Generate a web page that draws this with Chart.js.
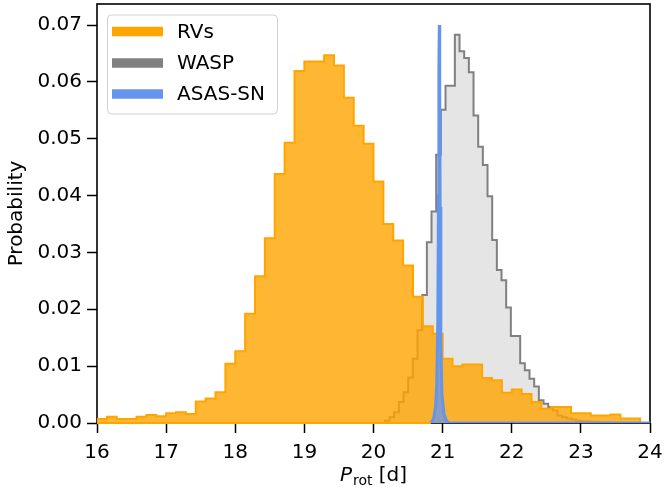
<!DOCTYPE html>
<html>
<head>
<meta charset="utf-8">
<script src="https://cdn.jsdelivr.net/npm/chart.js@4.4.0/dist/chart.umd.min.js"></script>
<style>
    html, body { margin: 0; padding: 0; background: #fff; }
    #wrap { width: 664px; height: 491px; }
</style>
</head>
<body>
<div id="wrap"><canvas id="chart" width="664" height="491"></canvas></div>
<script>
// tick labels
const xTicks = [16, 17, 18, 19, 20, 21, 22, 23, 24];
const yTicks = [0, 0.01, 0.02, 0.03, 0.04, 0.05, 0.06, 0.07];

const seriesLabels = ['RVs', 'WASP', 'ASAS-SN'];

// RVs histogram: bins of 1/7 d starting at 16 d
const rvStart = 16;
const rvWidth = 1 / 7;
const rvHeights = [
    0.0004, 0.0007, 0.0011, 0.0007, 0.0007, 0.0011, 0.0014, 0.0012, 0.0017, 0.0019,
    0.0016, 0.0038, 0.0043, 0.0054, 0.0104, 0.0126, 0.0192, 0.0258, 0.0325, 0.0438,
    0.0493, 0.0619, 0.0636, 0.0636, 0.0647, 0.0629, 0.0572, 0.0523, 0.0491, 0.0425,
    0.0350, 0.0321, 0.0277, 0.0222, 0.0170, 0.0157, 0.0113, 0.0100, 0.0103, 0.0103,
    0.0079, 0.0075, 0.0053, 0.0059, 0.0051, 0.0037, 0.0025, 0.0028, 0.0028, 0.0017,
    0.0017, 0.0013, 0.0013, 0.0015, 0.0008, 0.0008
];

// WASP histogram
const waspStart = 20.1645;
const waspWidth = 0.0675;
const waspHeights = [
    0.0002, 0.0004, 0.0010, 0.0019, 0.0037, 0.0054, 0.0080, 0.0113, 0.0163, 0.0225,
    0.0318, 0.0372, 0.0472, 0.0551, 0.0593, 0.0593, 0.0683, 0.0654, 0.0642, 0.0617,
    0.0541, 0.0486, 0.0454, 0.0399, 0.0322, 0.0269, 0.0251, 0.0203, 0.0153, 0.0153,
    0.0105, 0.0093, 0.0078, 0.0064, 0.0040, 0.0034, 0.0028, 0.0022, 0.0013, 0.0010,
    0.0008, 0.0006, 0.0004, 0.0003, 0.0003, 0.0002, 0.0002, 0.0001, 0.0001
];

// ASAS-SN: very narrow peak
const asasX = [20.83, 20.87, 20.90, 20.915, 20.93, 20.94, 20.946, 20.952, 20.958, 20.964, 20.974, 20.99, 21.02, 21.06, 21.10, 24.0];
const asasY = [0, 0.0008, 0.003, 0.007, 0.018, 0.040, 0.062, 0.0700, 0.060, 0.038, 0.014, 0.005, 0.0015, 0.0003, 0, 0];

const FONT = 'DejaVu Sans';

function stepPoints(start, width, heights) {
    const pts = [{ x: start, y: 0 }];
    heights.forEach((h, i) => pts.push({ x: start + i * width, y: h }));
    pts.push({ x: start + heights.length * width, y: 0 });
    return pts;
}

const frame = {
    id: 'frame',
    beforeDatasetsDraw(chart) {
        const { ctx, chartArea: a } = chart;
        ctx.save();
        ctx.strokeStyle = '#000';
        ctx.lineWidth = 1.6;
        ctx.strokeRect(a.left, a.top, a.right - a.left, a.bottom - a.top);
        ctx.restore();
    },
    afterDatasetsDraw(chart) {
        // outline of the RVs patch along the baseline
        const { ctx, chartArea: a, scales } = chart;
        const y0 = scales.y.getPixelForValue(0);
        ctx.save();
        ctx.strokeStyle = '#FFA500';
        ctx.lineWidth = 2;
        ctx.beginPath();
        ctx.moveTo(a.left, y0);
        ctx.lineTo(scales.x.getPixelForValue(asasX[0]), y0);
        ctx.stroke();
        ctx.restore();
    },
    afterDraw(chart) {
        const { ctx, chartArea: a } = chart;
        ctx.save();
        ctx.fillStyle = '#000';

        // y title
        ctx.font = `20px "${FONT}"`;
        ctx.textAlign = 'center';
        ctx.textBaseline = 'middle';
        ctx.translate(17, (a.top + a.bottom) / 2);
        ctx.rotate(-Math.PI / 2);
        ctx.fillText('Probability', 0, 0);
        ctx.setTransform(1, 0, 0, 1, 0, 0);

        // x title: P_rot [d]
        ctx.textAlign = 'left';
        ctx.textBaseline = 'alphabetic';
        const fMain = `italic 20px "${FONT}"`;
        const fSub = `14px "${FONT}"`;
        const fRest = `20px "${FONT}"`;
        ctx.font = fMain; const wP = ctx.measureText('P').width;
        ctx.font = fSub; const wSub = ctx.measureText('rot').width;
        ctx.font = fRest; const wRest = ctx.measureText(' [d]').width;
        const total = wP + 1 + wSub + wRest;
        let x = (a.left + a.right) / 2 - total / 2;
        const base = 481;
        ctx.font = fMain; ctx.fillText('P', x, base); x += wP + 1;
        ctx.font = fSub; ctx.fillText('rot', x, base + 4); x += wSub;
        ctx.font = fRest; ctx.fillText(' [d]', x, base);

        // legend
        const lx = 107.5, ly = 15, lw = 170, lh = 99;
        ctx.beginPath();
        ctx.roundRect(lx, ly, lw, lh, 4);
        ctx.fillStyle = 'rgba(255,255,255,0.8)';
        ctx.fill();
        ctx.strokeStyle = '#d0d0d0';
        ctx.lineWidth = 1;
        ctx.stroke();
        const rows = [31.5, 63, 94];
        const cols = ['#FFA500', '#808080', '#6495ED'];
        seriesLabels.forEach((lab, i) => {
            ctx.strokeStyle = cols[i];
            ctx.lineWidth = 9.5;
            ctx.beginPath();
            ctx.moveTo(112, rows[i]);
            ctx.lineTo(163, rows[i]);
            ctx.stroke();
            ctx.fillStyle = '#000';
            ctx.font = `20px "${FONT}"`;
            ctx.textBaseline = 'middle';
            ctx.fillText(lab, 177, rows[i] + 1);
        });
        ctx.restore();
    }
};

const ctx = document.getElementById('chart').getContext('2d');

const chart = new Chart(ctx, {
    type: 'line',
    data: {
        datasets: [
            {
                label: seriesLabels[0],
                data: stepPoints(rvStart, rvWidth, rvHeights),
                stepped: 'after',
                borderColor: '#FFA500',
                backgroundColor: 'rgba(255,165,0,0.8)',
                borderWidth: 2,
                fill: 'origin',
                pointRadius: 0,
                order: 1
            },
            {
                label: seriesLabels[1],
                data: stepPoints(waspStart, waspWidth, waspHeights),
                stepped: 'after',
                borderColor: '#808080',
                backgroundColor: '#E5E5E5',
                borderWidth: 2,
                fill: 'origin',
                pointRadius: 0,
                order: 2
            },
            {
                label: seriesLabels[2],
                data: asasX.map((v, i) => ({ x: v, y: asasY[i] })),
                borderColor: '#6495ED',
                backgroundColor: 'rgba(100,149,237,0.75)',
                borderWidth: 3,
                fill: 'origin',
                pointRadius: 0,
                tension: 0,
                order: 0
            }
        ]
    },
    options: {
        responsive: false,
        devicePixelRatio: 1,
        animation: false,
        layout: { padding: { left: 0, right: 14, top: 4, bottom: 0 } },
        plugins: {
            legend: { display: false },
            tooltip: { enabled: false }
        },
        scales: {
            x: {
                type: 'linear',
                min: 16,
                max: 24,
                afterBuildTicks: (s) => { s.ticks = xTicks.map(v => ({ value: v })); },
                afterFit: (s) => { s.height = 68; s.paddingLeft = 0; s.paddingRight = 0; },
                ticks: {
                    color: '#000',
                    font: { family: FONT, size: 20 },
                    padding: 8,
                    maxRotation: 0,
                    callback: (v) => String(v)
                },
                grid: { display: true, drawOnChartArea: false, drawTicks: true, tickLength: 10, tickWidth: 1.5, tickColor: '#000' },
                border: { display: false }
            },
            y: {
                type: 'linear',
                min: 0,
                max: 0.0737,
                afterBuildTicks: (s) => { s.ticks = yTicks.map(v => ({ value: v })); },
                afterFit: (s) => { s.width = 97; s.paddingTop = 0; s.paddingBottom = 0; },
                ticks: {
                    color: '#000',
                    font: { family: FONT, size: 20 },
                    padding: 5,
                    callback: (v) => Number(v).toFixed(2)
                },
                grid: { display: true, drawOnChartArea: false, drawTicks: true, tickLength: 10, tickWidth: 1.5, tickColor: '#000' },
                border: { display: false }
            }
        }
    },
    plugins: [frame]
});
</script>
</body>
</html>
